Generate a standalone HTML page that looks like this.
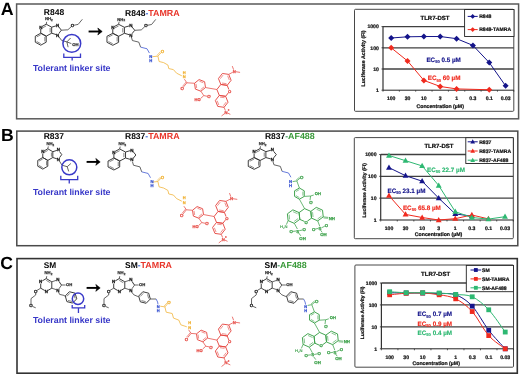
<!DOCTYPE html>
<html><head><meta charset="utf-8"><style>
html,body{margin:0;padding:0;background:#fff;width:520px;height:377px;overflow:hidden}
svg{display:block;will-change:transform}
text{font-family:"Liberation Sans",sans-serif;text-rendering:geometricPrecision}
</style></head><body>
<svg width="520" height="377" viewBox="0 0 520 377">
<rect x="0" y="0" width="520" height="377" fill="#fff"/>
<text x="7.2" y="14.8" font-size="17.8" fill="#000" text-anchor="middle" font-weight="bold" >A</text>
<text x="7.3" y="140.6" font-size="17.6" fill="#000" text-anchor="middle" font-weight="bold" >B</text>
<text x="6.5" y="268.7" font-size="17.6" fill="#000" text-anchor="middle" font-weight="bold" >C</text>
<rect x="16.6" y="4" width="502" height="114.8" fill="none" stroke="#5a5a5a" stroke-width="1.5"/>
<rect x="16.8" y="131.1" width="501" height="114.6" fill="none" stroke="#4a4a4a" stroke-width="1.5"/>
<rect x="17" y="258.6" width="500.3" height="114.6" fill="none" stroke="#333" stroke-width="1.6"/>
<rect x="354.5" y="9.3" width="159.3" height="102" rx="1" fill="#fff" stroke="#333" stroke-width="0.9"/>
<line x1="383" y1="26.6" x2="513.8" y2="26.6" stroke="#404040" stroke-width="1.3"/>
<line x1="383" y1="47.8" x2="513.8" y2="47.8" stroke="#404040" stroke-width="1.3"/>
<line x1="383" y1="69" x2="513.8" y2="69" stroke="#404040" stroke-width="1.3"/>
<line x1="383" y1="26.6" x2="383" y2="90.2" stroke="#333" stroke-width="1.2"/>
<line x1="383" y1="90.2" x2="513.8" y2="90.2" stroke="#222" stroke-width="1"/>
<line x1="381.5" y1="26.6" x2="383" y2="26.6" stroke="#222" stroke-width="0.8"/>
<text x="378.8" y="28.45" font-size="5.1" fill="#111" text-anchor="end" font-weight="bold"  stroke="#111" stroke-width="0.22">1000</text>
<line x1="381.5" y1="47.8" x2="383" y2="47.8" stroke="#222" stroke-width="0.8"/>
<text x="378.8" y="49.65" font-size="5.1" fill="#111" text-anchor="end" font-weight="bold"  stroke="#111" stroke-width="0.22">100</text>
<line x1="381.5" y1="69" x2="383" y2="69" stroke="#222" stroke-width="0.8"/>
<text x="378.8" y="70.85" font-size="5.1" fill="#111" text-anchor="end" font-weight="bold"  stroke="#111" stroke-width="0.22">10</text>
<line x1="381.5" y1="90.2" x2="383" y2="90.2" stroke="#222" stroke-width="0.8"/>
<text x="378.8" y="92.05" font-size="5.1" fill="#111" text-anchor="end" font-weight="bold"  stroke="#111" stroke-width="0.22">1</text>
<line x1="383" y1="90.2" x2="383" y2="91.7" stroke="#222" stroke-width="0.7"/>
<line x1="399.35" y1="90.2" x2="399.35" y2="91.7" stroke="#222" stroke-width="0.7"/>
<line x1="415.7" y1="90.2" x2="415.7" y2="91.7" stroke="#222" stroke-width="0.7"/>
<line x1="432.05" y1="90.2" x2="432.05" y2="91.7" stroke="#222" stroke-width="0.7"/>
<line x1="448.4" y1="90.2" x2="448.4" y2="91.7" stroke="#222" stroke-width="0.7"/>
<line x1="464.75" y1="90.2" x2="464.75" y2="91.7" stroke="#222" stroke-width="0.7"/>
<line x1="481.1" y1="90.2" x2="481.1" y2="91.7" stroke="#222" stroke-width="0.7"/>
<line x1="497.45" y1="90.2" x2="497.45" y2="91.7" stroke="#222" stroke-width="0.7"/>
<line x1="513.8" y1="90.2" x2="513.8" y2="91.7" stroke="#222" stroke-width="0.7"/>
<text x="391.18" y="100.3" font-size="5.1" fill="#111" text-anchor="middle" font-weight="bold"  stroke="#111" stroke-width="0.22">100</text>
<text x="407.52" y="100.3" font-size="5.1" fill="#111" text-anchor="middle" font-weight="bold"  stroke="#111" stroke-width="0.22">30</text>
<text x="423.88" y="100.3" font-size="5.1" fill="#111" text-anchor="middle" font-weight="bold"  stroke="#111" stroke-width="0.22">10</text>
<text x="440.22" y="100.3" font-size="5.1" fill="#111" text-anchor="middle" font-weight="bold"  stroke="#111" stroke-width="0.22">3</text>
<text x="456.57" y="100.3" font-size="5.1" fill="#111" text-anchor="middle" font-weight="bold"  stroke="#111" stroke-width="0.22">1</text>
<text x="472.92" y="100.3" font-size="5.1" fill="#111" text-anchor="middle" font-weight="bold"  stroke="#111" stroke-width="0.22">0.3</text>
<text x="489.27" y="100.3" font-size="5.1" fill="#111" text-anchor="middle" font-weight="bold"  stroke="#111" stroke-width="0.22">0.1</text>
<text x="505.62" y="100.3" font-size="5.1" fill="#111" text-anchor="middle" font-weight="bold"  stroke="#111" stroke-width="0.22">0.03</text>
<text x="440.2" y="107.8" font-size="5.2" fill="#111" text-anchor="middle" font-weight="bold"  stroke="#111" stroke-width="0.22">Concentration (&#181;M)</text>
<text x="0" y="0" font-size="5.25" fill="#111" text-anchor="middle" font-weight="bold" transform="translate(365.3,58.5) rotate(-90)" stroke="#111" stroke-width="0.22">Luciferase Activity (FI)</text>
<text x="435" y="19.5" font-size="6" fill="#111" text-anchor="middle" font-weight="bold"  stroke="#111" stroke-width="0.22">TLR7-DST</text>
<polyline points="391.18,38 407.52,36.81 423.88,36.53 440.22,36.53 456.57,38.66 472.92,45.38 489.27,62.62 505.62,85.87" fill="none" stroke="#14148a" stroke-width="1" stroke-linejoin="round"/>
<polygon points="391.18,35 394.18,38 391.18,41 388.18,38" fill="#14148a"/>
<polygon points="407.52,33.81 410.52,36.81 407.52,39.81 404.52,36.81" fill="#14148a"/>
<polygon points="423.88,33.53 426.88,36.53 423.88,39.53 420.88,36.53" fill="#14148a"/>
<polygon points="440.22,33.53 443.22,36.53 440.22,39.53 437.22,36.53" fill="#14148a"/>
<polygon points="456.57,35.66 459.57,38.66 456.57,41.66 453.57,38.66" fill="#14148a"/>
<polygon points="472.92,42.38 475.92,45.38 472.92,48.38 469.92,45.38" fill="#14148a"/>
<polygon points="489.27,59.62 492.27,62.62 489.27,65.62 486.27,62.62" fill="#14148a"/>
<polygon points="505.62,82.87 508.62,85.87 505.62,88.87 502.62,85.87" fill="#14148a"/>
<polyline points="391.18,47.8 407.52,60.94 423.88,80.4 440.22,86.47 456.57,88.91 489.27,89.75" fill="none" stroke="#f02a1e" stroke-width="1" stroke-linejoin="round"/>
<polygon points="391.18,44.8 394.18,47.8 391.18,50.8 388.18,47.8" fill="#f02a1e"/>
<polygon points="407.52,57.94 410.52,60.94 407.52,63.94 404.52,60.94" fill="#f02a1e"/>
<polygon points="423.88,77.4 426.88,80.4 423.88,83.4 420.88,80.4" fill="#f02a1e"/>
<polygon points="440.22,83.47 443.22,86.47 440.22,89.47 437.22,86.47" fill="#f02a1e"/>
<polygon points="456.57,85.91 459.57,88.91 456.57,91.91 453.57,88.91" fill="#f02a1e"/>
<polygon points="489.27,86.75 492.27,89.75 489.27,92.75 486.27,89.75" fill="#f02a1e"/>
<rect x="464.6" y="9.5" width="49.4" height="27" fill="#fff" stroke="#222" stroke-width="0.9"/>
<line x1="467.7" y1="16.4" x2="477.7" y2="16.4" stroke="#14148a" stroke-width="1"/>
<polygon points="472.7,14 475.1,16.4 472.7,18.8 470.3,16.4" fill="#14148a"/>
<text x="479.2" y="18.25" font-size="5.1" fill="#111" text-anchor="start" font-weight="bold"  stroke="#111" stroke-width="0.22">R848</text>
<line x1="467.7" y1="29.6" x2="477.7" y2="29.6" stroke="#f02a1e" stroke-width="1"/>
<polygon points="472.7,27.2 475.1,29.6 472.7,32 470.3,29.6" fill="#f02a1e"/>
<text x="479.2" y="31.45" font-size="5.1" fill="#111" text-anchor="start" font-weight="bold"  stroke="#111" stroke-width="0.22">R848-TAMRA</text>
<text x="426.4" y="61.8" font-size="6.3" fill="#14148a" stroke="#14148a" stroke-width="0.15" font-weight="bold">EC<tspan font-size="4.1" dy="1.6">50</tspan><tspan dy="-1.6"> 0.5 &#181;M</tspan></text>
<text x="427.8" y="79.9" font-size="6.3" fill="#f02a1e" stroke="#f02a1e" stroke-width="0.15" font-weight="bold">EC<tspan font-size="4.1" dy="1.6">50</tspan><tspan dy="-1.6"> 60 &#181;M</tspan></text>
<rect x="354.3" y="137.6" width="159" height="101.1" rx="1" fill="#fff" stroke="#333" stroke-width="0.9"/>
<line x1="380.7" y1="154.5" x2="513.3" y2="154.5" stroke="#404040" stroke-width="1.3"/>
<line x1="380.7" y1="176.33" x2="513.3" y2="176.33" stroke="#404040" stroke-width="1.3"/>
<line x1="380.7" y1="198.17" x2="513.3" y2="198.17" stroke="#404040" stroke-width="1.3"/>
<line x1="380.7" y1="154.5" x2="380.7" y2="220" stroke="#333" stroke-width="1.2"/>
<line x1="380.7" y1="220" x2="513.3" y2="220" stroke="#222" stroke-width="1"/>
<line x1="379.2" y1="154.5" x2="380.7" y2="154.5" stroke="#222" stroke-width="0.8"/>
<text x="376.5" y="156.35" font-size="5.1" fill="#111" text-anchor="end" font-weight="bold"  stroke="#111" stroke-width="0.22">1000</text>
<line x1="379.2" y1="176.33" x2="380.7" y2="176.33" stroke="#222" stroke-width="0.8"/>
<text x="376.5" y="178.18" font-size="5.1" fill="#111" text-anchor="end" font-weight="bold"  stroke="#111" stroke-width="0.22">100</text>
<line x1="379.2" y1="198.17" x2="380.7" y2="198.17" stroke="#222" stroke-width="0.8"/>
<text x="376.5" y="200.02" font-size="5.1" fill="#111" text-anchor="end" font-weight="bold"  stroke="#111" stroke-width="0.22">10</text>
<line x1="379.2" y1="220" x2="380.7" y2="220" stroke="#222" stroke-width="0.8"/>
<text x="376.5" y="221.85" font-size="5.1" fill="#111" text-anchor="end" font-weight="bold"  stroke="#111" stroke-width="0.22">1</text>
<line x1="380.7" y1="220" x2="380.7" y2="221.5" stroke="#222" stroke-width="0.7"/>
<line x1="397.27" y1="220" x2="397.27" y2="221.5" stroke="#222" stroke-width="0.7"/>
<line x1="413.85" y1="220" x2="413.85" y2="221.5" stroke="#222" stroke-width="0.7"/>
<line x1="430.42" y1="220" x2="430.42" y2="221.5" stroke="#222" stroke-width="0.7"/>
<line x1="447" y1="220" x2="447" y2="221.5" stroke="#222" stroke-width="0.7"/>
<line x1="463.57" y1="220" x2="463.57" y2="221.5" stroke="#222" stroke-width="0.7"/>
<line x1="480.15" y1="220" x2="480.15" y2="221.5" stroke="#222" stroke-width="0.7"/>
<line x1="496.72" y1="220" x2="496.72" y2="221.5" stroke="#222" stroke-width="0.7"/>
<line x1="513.3" y1="220" x2="513.3" y2="221.5" stroke="#222" stroke-width="0.7"/>
<text x="388.99" y="230.3" font-size="5.1" fill="#111" text-anchor="middle" font-weight="bold"  stroke="#111" stroke-width="0.22">100</text>
<text x="405.56" y="230.3" font-size="5.1" fill="#111" text-anchor="middle" font-weight="bold"  stroke="#111" stroke-width="0.22">30</text>
<text x="422.14" y="230.3" font-size="5.1" fill="#111" text-anchor="middle" font-weight="bold"  stroke="#111" stroke-width="0.22">10</text>
<text x="438.71" y="230.3" font-size="5.1" fill="#111" text-anchor="middle" font-weight="bold"  stroke="#111" stroke-width="0.22">3</text>
<text x="455.29" y="230.3" font-size="5.1" fill="#111" text-anchor="middle" font-weight="bold"  stroke="#111" stroke-width="0.22">1</text>
<text x="471.86" y="230.3" font-size="5.1" fill="#111" text-anchor="middle" font-weight="bold"  stroke="#111" stroke-width="0.22">0.3</text>
<text x="488.44" y="230.3" font-size="5.1" fill="#111" text-anchor="middle" font-weight="bold"  stroke="#111" stroke-width="0.22">0.1</text>
<text x="505.01" y="230.3" font-size="5.1" fill="#111" text-anchor="middle" font-weight="bold"  stroke="#111" stroke-width="0.22">0.03</text>
<text x="438.5" y="236.3" font-size="5.2" fill="#111" text-anchor="middle" font-weight="bold"  stroke="#111" stroke-width="0.22">Concentration (&#181;M)</text>
<text x="0" y="0" font-size="5.1" fill="#111" text-anchor="middle" font-weight="bold" transform="translate(365.8,190.4) rotate(-90)" stroke="#111" stroke-width="0.22">Luciferase Activity (FI)</text>
<text x="438.9" y="147.9" font-size="6" fill="#111" text-anchor="middle" font-weight="bold"  stroke="#111" stroke-width="0.22">TLR7-DST</text>
<polyline points="388.99,167.64 405.56,175.69 422.14,181.18 438.71,198.17 455.29,213.91 471.86,216.16" fill="none" stroke="#14148a" stroke-width="1" stroke-linejoin="round"/>
<polygon points="388.99,164.54 391.93,169.81 386.04,169.81" fill="#14148a"/>
<polygon points="405.56,172.59 408.51,177.86 402.62,177.86" fill="#14148a"/>
<polygon points="422.14,178.08 425.08,183.35 419.19,183.35" fill="#14148a"/>
<polygon points="438.71,195.07 441.66,200.34 435.77,200.34" fill="#14148a"/>
<polygon points="455.29,210.81 458.23,216.08 452.34,216.08" fill="#14148a"/>
<polygon points="471.86,213.06 474.81,218.33 468.92,218.33" fill="#14148a"/>
<polyline points="388.99,195.68 405.56,214.43 422.14,217.51 438.71,220 455.29,218.67 471.86,214.97 488.44,218.93" fill="none" stroke="#f02a1e" stroke-width="1" stroke-linejoin="round"/>
<polygon points="388.99,192.58 391.93,197.85 386.04,197.85" fill="#f02a1e"/>
<polygon points="405.56,211.33 408.51,216.6 402.62,216.6" fill="#f02a1e"/>
<polygon points="422.14,214.41 425.08,219.68 419.19,219.68" fill="#f02a1e"/>
<polygon points="438.71,216.9 441.66,222.17 435.77,222.17" fill="#f02a1e"/>
<polygon points="455.29,215.57 458.23,220.84 452.34,220.84" fill="#f02a1e"/>
<polygon points="471.86,211.87 474.81,217.14 468.92,217.14" fill="#f02a1e"/>
<polygon points="488.44,215.83 491.38,221.1 485.49,221.1" fill="#f02a1e"/>
<polyline points="388.99,155.5 405.56,160.7 422.14,165.92 438.71,185.51 455.29,211.7 471.86,217.51 488.44,219.1 505.01,216.68" fill="none" stroke="#2eb872" stroke-width="1" stroke-linejoin="round"/>
<polygon points="388.99,152.4 391.93,157.67 386.04,157.67" fill="#2eb872"/>
<polygon points="405.56,157.6 408.51,162.87 402.62,162.87" fill="#2eb872"/>
<polygon points="422.14,162.82 425.08,168.09 419.19,168.09" fill="#2eb872"/>
<polygon points="438.71,182.41 441.66,187.68 435.77,187.68" fill="#2eb872"/>
<polygon points="455.29,208.6 458.23,213.87 452.34,213.87" fill="#2eb872"/>
<polygon points="471.86,214.41 474.81,219.68 468.92,219.68" fill="#2eb872"/>
<polygon points="488.44,216 491.38,221.27 485.49,221.27" fill="#2eb872"/>
<polygon points="505.01,213.58 507.96,218.85 502.07,218.85" fill="#2eb872"/>
<rect x="465.8" y="137.7" width="47.5" height="25.8" fill="#fff" stroke="#222" stroke-width="0.9"/>
<line x1="467.7" y1="141.8" x2="477.7" y2="141.8" stroke="#14148a" stroke-width="1"/>
<polygon points="472.7,139.32 475.06,143.54 470.34,143.54" fill="#14148a"/>
<text x="479.2" y="143.65" font-size="5.1" fill="#111" text-anchor="start" font-weight="bold"  stroke="#111" stroke-width="0.22">R837</text>
<line x1="467.7" y1="151" x2="477.7" y2="151" stroke="#f02a1e" stroke-width="1"/>
<polygon points="472.7,148.52 475.06,152.74 470.34,152.74" fill="#f02a1e"/>
<text x="479.2" y="152.85" font-size="5.1" fill="#111" text-anchor="start" font-weight="bold"  stroke="#111" stroke-width="0.22">R837-TAMRA</text>
<line x1="467.7" y1="160.2" x2="477.7" y2="160.2" stroke="#2eb872" stroke-width="1"/>
<polygon points="472.7,157.72 475.06,161.94 470.34,161.94" fill="#2eb872"/>
<text x="479.2" y="162.05" font-size="5.1" fill="#111" text-anchor="start" font-weight="bold"  stroke="#111" stroke-width="0.22">R837-AF488</text>
<text x="427" y="171.8" font-size="6.3" fill="#2eb872" stroke="#2eb872" stroke-width="0.15" font-weight="bold">EC<tspan font-size="4.1" dy="1.6">50</tspan><tspan dy="-1.6"> 22.7 &#181;M</tspan></text>
<text x="387.5" y="192.5" font-size="6.3" fill="#14148a" stroke="#14148a" stroke-width="0.15" font-weight="bold">EC<tspan font-size="4.1" dy="1.6">50</tspan><tspan dy="-1.6"> 23.1 &#181;M</tspan></text>
<text x="402.9" y="209.5" font-size="6.3" fill="#f02a1e" stroke="#f02a1e" stroke-width="0.15" font-weight="bold">EC<tspan font-size="4.1" dy="1.6">50</tspan><tspan dy="-1.6"> 65.8 &#181;M</tspan></text>
<rect x="354.9" y="265" width="158.6" height="102.2" rx="1" fill="#fff" stroke="#333" stroke-width="0.9"/>
<line x1="381.4" y1="283" x2="513.5" y2="283" stroke="#404040" stroke-width="1.3"/>
<line x1="381.4" y1="304.93" x2="513.5" y2="304.93" stroke="#404040" stroke-width="1.3"/>
<line x1="381.4" y1="326.87" x2="513.5" y2="326.87" stroke="#404040" stroke-width="1.3"/>
<line x1="381.4" y1="283" x2="381.4" y2="348.8" stroke="#333" stroke-width="1.2"/>
<line x1="381.4" y1="348.8" x2="513.5" y2="348.8" stroke="#222" stroke-width="1"/>
<line x1="379.9" y1="283" x2="381.4" y2="283" stroke="#222" stroke-width="0.8"/>
<text x="377.2" y="284.85" font-size="5.1" fill="#111" text-anchor="end" font-weight="bold"  stroke="#111" stroke-width="0.22">1000</text>
<line x1="379.9" y1="304.93" x2="381.4" y2="304.93" stroke="#222" stroke-width="0.8"/>
<text x="377.2" y="306.78" font-size="5.1" fill="#111" text-anchor="end" font-weight="bold"  stroke="#111" stroke-width="0.22">100</text>
<line x1="379.9" y1="326.87" x2="381.4" y2="326.87" stroke="#222" stroke-width="0.8"/>
<text x="377.2" y="328.72" font-size="5.1" fill="#111" text-anchor="end" font-weight="bold"  stroke="#111" stroke-width="0.22">10</text>
<line x1="379.9" y1="348.8" x2="381.4" y2="348.8" stroke="#222" stroke-width="0.8"/>
<text x="377.2" y="350.65" font-size="5.1" fill="#111" text-anchor="end" font-weight="bold"  stroke="#111" stroke-width="0.22">1</text>
<line x1="381.4" y1="348.8" x2="381.4" y2="350.3" stroke="#222" stroke-width="0.7"/>
<line x1="397.91" y1="348.8" x2="397.91" y2="350.3" stroke="#222" stroke-width="0.7"/>
<line x1="414.42" y1="348.8" x2="414.42" y2="350.3" stroke="#222" stroke-width="0.7"/>
<line x1="430.94" y1="348.8" x2="430.94" y2="350.3" stroke="#222" stroke-width="0.7"/>
<line x1="447.45" y1="348.8" x2="447.45" y2="350.3" stroke="#222" stroke-width="0.7"/>
<line x1="463.96" y1="348.8" x2="463.96" y2="350.3" stroke="#222" stroke-width="0.7"/>
<line x1="480.48" y1="348.8" x2="480.48" y2="350.3" stroke="#222" stroke-width="0.7"/>
<line x1="496.99" y1="348.8" x2="496.99" y2="350.3" stroke="#222" stroke-width="0.7"/>
<line x1="513.5" y1="348.8" x2="513.5" y2="350.3" stroke="#222" stroke-width="0.7"/>
<text x="389.66" y="359.3" font-size="5.1" fill="#111" text-anchor="middle" font-weight="bold"  stroke="#111" stroke-width="0.22">100</text>
<text x="406.17" y="359.3" font-size="5.1" fill="#111" text-anchor="middle" font-weight="bold"  stroke="#111" stroke-width="0.22">30</text>
<text x="422.68" y="359.3" font-size="5.1" fill="#111" text-anchor="middle" font-weight="bold"  stroke="#111" stroke-width="0.22">10</text>
<text x="439.19" y="359.3" font-size="5.1" fill="#111" text-anchor="middle" font-weight="bold"  stroke="#111" stroke-width="0.22">3</text>
<text x="455.71" y="359.3" font-size="5.1" fill="#111" text-anchor="middle" font-weight="bold"  stroke="#111" stroke-width="0.22">1</text>
<text x="472.22" y="359.3" font-size="5.1" fill="#111" text-anchor="middle" font-weight="bold"  stroke="#111" stroke-width="0.22">0.3</text>
<text x="488.73" y="359.3" font-size="5.1" fill="#111" text-anchor="middle" font-weight="bold"  stroke="#111" stroke-width="0.22">0.1</text>
<text x="505.24" y="359.3" font-size="5.1" fill="#111" text-anchor="middle" font-weight="bold"  stroke="#111" stroke-width="0.22">0.03</text>
<text x="436.2" y="365.3" font-size="5.2" fill="#111" text-anchor="middle" font-weight="bold"  stroke="#111" stroke-width="0.22">Concentration (&#181;M)</text>
<text x="0" y="0" font-size="4.95" fill="#111" text-anchor="middle" font-weight="bold" transform="translate(364,312.9) rotate(-90)" stroke="#111" stroke-width="0.22">Luciferase Activity (FI)</text>
<text x="435.6" y="275.9" font-size="6" fill="#111" text-anchor="middle" font-weight="bold"  stroke="#111" stroke-width="0.22">TLR7-DST</text>
<path d="M389.66,292.73 C392.41,292.78 400.66,292.96 406.17,293 C411.67,293.04 417.18,292.91 422.68,293 C428.19,293.09 433.69,293.26 439.19,293.56 C444.7,293.86 450.2,292.69 455.71,294.79 C461.21,296.89 466.71,300.24 472.22,306.15 C477.72,312.06 483.23,323.16 488.73,330.26 C494.24,337.37 502.49,345.71 505.24,348.8" fill="none" stroke="#14148a" stroke-width="1"/>
<rect x="387.26" y="290.33" width="4.8" height="4.8" fill="#14148a"/>
<rect x="403.77" y="290.6" width="4.8" height="4.8" fill="#14148a"/>
<rect x="420.28" y="290.6" width="4.8" height="4.8" fill="#14148a"/>
<rect x="436.79" y="291.16" width="4.8" height="4.8" fill="#14148a"/>
<rect x="453.31" y="292.39" width="4.8" height="4.8" fill="#14148a"/>
<rect x="469.82" y="303.75" width="4.8" height="4.8" fill="#14148a"/>
<rect x="486.33" y="327.86" width="4.8" height="4.8" fill="#14148a"/>
<rect x="502.84" y="346.4" width="4.8" height="4.8" fill="#14148a"/>
<path d="M389.66,294.79 C392.41,294.54 400.66,293.57 406.17,293.28 C411.67,292.98 417.18,292.75 422.68,293 C428.19,293.25 433.69,293.82 439.19,294.79 C444.7,295.76 450.2,296.03 455.71,298.82 C461.21,301.61 466.71,305.41 472.22,311.54 C477.72,317.67 483.23,329.38 488.73,335.59 C494.24,341.81 502.49,346.6 505.24,348.8" fill="none" stroke="#f02a1e" stroke-width="1"/>
<rect x="387.26" y="292.39" width="4.8" height="4.8" fill="#f02a1e"/>
<rect x="403.77" y="290.88" width="4.8" height="4.8" fill="#f02a1e"/>
<rect x="420.28" y="290.6" width="4.8" height="4.8" fill="#f02a1e"/>
<rect x="436.79" y="292.39" width="4.8" height="4.8" fill="#f02a1e"/>
<rect x="453.31" y="296.42" width="4.8" height="4.8" fill="#f02a1e"/>
<rect x="469.82" y="309.14" width="4.8" height="4.8" fill="#f02a1e"/>
<rect x="486.33" y="333.19" width="4.8" height="4.8" fill="#f02a1e"/>
<rect x="502.84" y="346.4" width="4.8" height="4.8" fill="#f02a1e"/>
<path d="M389.66,291.73 C392.41,291.9 400.66,292.56 406.17,292.73 C411.67,292.9 417.18,292.69 422.68,292.73 C428.19,292.78 433.69,292.71 439.19,293 C444.7,293.29 450.2,293.84 455.71,294.47 C461.21,295.1 466.71,294.24 472.22,296.79 C477.72,299.35 483.23,303.92 488.73,309.8 C494.24,315.68 502.49,328.35 505.24,332.06" fill="none" stroke="#2eb872" stroke-width="1"/>
<rect x="387.26" y="289.33" width="4.8" height="4.8" fill="#2eb872"/>
<rect x="403.77" y="290.33" width="4.8" height="4.8" fill="#2eb872"/>
<rect x="420.28" y="290.33" width="4.8" height="4.8" fill="#2eb872"/>
<rect x="436.79" y="290.6" width="4.8" height="4.8" fill="#2eb872"/>
<rect x="453.31" y="292.07" width="4.8" height="4.8" fill="#2eb872"/>
<rect x="469.82" y="294.39" width="4.8" height="4.8" fill="#2eb872"/>
<rect x="486.33" y="307.4" width="4.8" height="4.8" fill="#2eb872"/>
<rect x="502.84" y="329.66" width="4.8" height="4.8" fill="#2eb872"/>
<rect x="466.3" y="265.4" width="47.2" height="26.3" fill="#fff" stroke="#222" stroke-width="0.9"/>
<line x1="470.5" y1="270" x2="481.2" y2="270" stroke="#14148a" stroke-width="1"/>
<rect x="473.93" y="268.08" width="3.84" height="3.84" fill="#14148a"/>
<text x="482" y="271.85" font-size="5.1" fill="#111" text-anchor="start" font-weight="bold"  stroke="#111" stroke-width="0.22">SM</text>
<line x1="470.5" y1="278.9" x2="481.2" y2="278.9" stroke="#f02a1e" stroke-width="1"/>
<rect x="473.93" y="276.98" width="3.84" height="3.84" fill="#f02a1e"/>
<text x="482" y="280.75" font-size="5.1" fill="#111" text-anchor="start" font-weight="bold"  stroke="#111" stroke-width="0.22">SM-TAMRA</text>
<line x1="470.5" y1="287.8" x2="481.2" y2="287.8" stroke="#2eb872" stroke-width="1"/>
<rect x="473.93" y="285.88" width="3.84" height="3.84" fill="#2eb872"/>
<text x="482" y="289.65" font-size="5.1" fill="#111" text-anchor="start" font-weight="bold"  stroke="#111" stroke-width="0.22">SM-AF488</text>
<text x="417.6" y="315.9" font-size="6.3" fill="#14148a" stroke="#14148a" stroke-width="0.15" font-weight="bold">EC<tspan font-size="4.1" dy="1.6">50</tspan><tspan dy="-1.6"> 0.7 &#181;M</tspan></text>
<text x="417.6" y="325.6" font-size="6.3" fill="#f02a1e" stroke="#f02a1e" stroke-width="0.15" font-weight="bold">EC<tspan font-size="4.1" dy="1.6">50</tspan><tspan dy="-1.6"> 0.9 &#181;M</tspan></text>
<text x="417.6" y="334.8" font-size="6.3" fill="#2eb872" stroke="#2eb872" stroke-width="0.15" font-weight="bold">EC<tspan font-size="4.1" dy="1.6">50</tspan><tspan dy="-1.6"> 0.4 &#181;M</tspan></text>
<text x="54" y="14.6" font-size="8.5" fill="#000" text-anchor="middle" font-weight="bold" >R848</text>
<text x="53.8" y="139" font-size="8.5" fill="#000" text-anchor="middle" font-weight="bold" >R837</text>
<text x="49.9" y="267.5" font-size="8.3" fill="#000" text-anchor="middle" font-weight="bold" >SM</text>
<text x="32.9" y="70.6" font-size="8.8" fill="#3838c8" text-anchor="start" font-weight="bold" >Tolerant linker site</text>
<text x="32.9" y="195.3" font-size="8.8" fill="#3838c8" text-anchor="start" font-weight="bold" >Tolerant linker site</text>
<text x="32.9" y="322.7" font-size="8.8" fill="#3838c8" text-anchor="start" font-weight="bold" >Tolerant linker site</text>
<line x1="88.6" y1="31.5" x2="99.2" y2="31.5" stroke="#000" stroke-width="1.9"/>
<polygon points="102.2,31.5 97.8,28.1 99,31.5 97.8,34.9" fill="#000" stroke="#000" stroke-width="0.6" stroke-linejoin="round"/>
<line x1="86.6" y1="161.9" x2="97.2" y2="161.9" stroke="#000" stroke-width="1.9"/>
<polygon points="100.2,161.9 95.8,158.5 97,161.9 95.8,165.3" fill="#000" stroke="#000" stroke-width="0.6" stroke-linejoin="round"/>
<line x1="86.6" y1="287.9" x2="97.2" y2="287.9" stroke="#000" stroke-width="1.9"/>
<polygon points="100.2,287.9 95.8,284.5 97,287.9 95.8,291.3" fill="#000" stroke="#000" stroke-width="0.6" stroke-linejoin="round"/>
<polygon points="46.2,24.2 51.66,27.2 51.66,33.2 46.2,36.2 40.74,33.2 40.74,27.2" fill="none" stroke="#333" stroke-width="0.95" stroke-linejoin="round"/>
<polygon points="40.74,33.2 46.2,36.2 46.2,42.2 40.74,45.2 35.29,42.2 35.29,36.2" fill="none" stroke="#333" stroke-width="0.95" stroke-linejoin="round"/>
<line x1="44.84" y1="36.95" x2="44.84" y2="41.45" stroke="#333" stroke-width="0.6"/>
<line x1="40.74" y1="43.7" x2="36.65" y2="41.45" stroke="#333" stroke-width="0.6"/>
<line x1="36.65" y1="36.95" x2="40.74" y2="34.7" stroke="#333" stroke-width="0.6"/>
<line x1="42.27" y1="28.04" x2="46.2" y2="25.88" stroke="#333" stroke-width="0.6"/>
<line x1="50.13" y1="28.04" x2="50.13" y2="32.36" stroke="#333" stroke-width="0.6"/>
<polyline points="51.66,27.2 57.65,25.35 61.35,30.2 57.65,35.05 51.66,33.2" fill="none" stroke="#333" stroke-width="0.95" stroke-linejoin="round"/>
<line x1="46.2" y1="24.2" x2="46.7" y2="21.8" stroke="#333" stroke-width="0.75"/>
<text x="48.8" y="20.4" font-size="4.2" fill="#333" stroke="#333" stroke-width="0.25" text-anchor="middle" font-weight="bold">NH<tspan font-size="2.94" dy="0.9">2</tspan></text>
<polyline points="61.35,30.2 67.85,29.8 72.55,25.5 78.15,24.4 82.35,19.3" fill="none" stroke="#333" stroke-width="0.75" stroke-linejoin="round"/>
<rect x="71.05" y="23.7" width="3" height="3.6" fill="#fff"/>
<text x="72.55" y="27.08" font-size="4.4" fill="#111" text-anchor="middle" font-weight="bold" stroke="#111" stroke-width="0.25">O</text>
<polyline points="57.65,35.05 61.6,40.4 66.9,41.9" fill="none" stroke="#333" stroke-width="0.75" stroke-linejoin="round"/>
<line x1="66.9" y1="41.9" x2="70.6" y2="38" stroke="#333" stroke-width="0.75"/>
<line x1="66.9" y1="41.9" x2="68.1" y2="47.2" stroke="#333" stroke-width="0.75"/>
<line x1="66.9" y1="41.9" x2="71.4" y2="43.6" stroke="#333" stroke-width="0.75"/>
<rect x="56.15" y="23.55" width="3" height="3.6" fill="#fff"/>
<text x="57.65" y="26.93" font-size="4.4" fill="#111" text-anchor="middle" font-weight="bold" stroke="#111" stroke-width="0.25">N</text>
<rect x="56.15" y="33.25" width="3" height="3.6" fill="#fff"/>
<text x="57.65" y="36.64" font-size="4.4" fill="#111" text-anchor="middle" font-weight="bold" stroke="#111" stroke-width="0.25">N</text>
<rect x="39.24" y="25.4" width="3" height="3.6" fill="#fff"/>
<text x="40.74" y="28.78" font-size="4.4" fill="#111" text-anchor="middle" font-weight="bold" stroke="#111" stroke-width="0.25">N</text>
<text x="75.4" y="45.7" font-size="4.2" fill="#333" text-anchor="middle" font-weight="bold"  stroke="#333" stroke-width="0.25">OH</text>
<circle cx="71.8" cy="43.4" r="8.9" fill="none" stroke="#3a3ac8" stroke-width="1.5"/>
<path d="M63.8,53.5 V57.4 H80.5 V53.5 M72.15,57.4 V60.6" fill="none" stroke="#3a3ac8" stroke-width="1.3"/>
<polygon points="118.6,24.3 124.42,27.3 124.42,33.3 118.6,36.3 112.78,33.3 112.78,27.3" fill="none" stroke="#333" stroke-width="0.95" stroke-linejoin="round"/>
<polygon points="112.78,33.3 118.6,36.3 118.6,42.3 112.78,45.3 106.96,42.3 106.96,36.3" fill="none" stroke="#333" stroke-width="0.95" stroke-linejoin="round"/>
<line x1="117.15" y1="37.05" x2="117.15" y2="41.55" stroke="#333" stroke-width="0.6"/>
<line x1="112.78" y1="43.8" x2="108.42" y2="41.55" stroke="#333" stroke-width="0.6"/>
<line x1="108.42" y1="37.05" x2="112.78" y2="34.8" stroke="#333" stroke-width="0.6"/>
<line x1="114.41" y1="28.14" x2="118.6" y2="25.98" stroke="#333" stroke-width="0.6"/>
<line x1="122.79" y1="28.14" x2="122.79" y2="32.46" stroke="#333" stroke-width="0.6"/>
<polyline points="124.42,27.3 130.81,25.45 134.76,30.3 130.81,35.15 124.42,33.3" fill="none" stroke="#333" stroke-width="0.95" stroke-linejoin="round"/>
<line x1="118.6" y1="24.3" x2="119.1" y2="21.9" stroke="#333" stroke-width="0.75"/>
<text x="121.2" y="20.5" font-size="4.2" fill="#333" stroke="#333" stroke-width="0.25" text-anchor="middle" font-weight="bold">NH<tspan font-size="2.94" dy="0.9">2</tspan></text>
<polyline points="134.76,30.3 141.26,29.9 145.96,25.6 151.56,24.5 155.76,19.4" fill="none" stroke="#333" stroke-width="0.75" stroke-linejoin="round"/>
<rect x="144.46" y="23.8" width="3" height="3.6" fill="#fff"/>
<text x="145.96" y="27.18" font-size="4.4" fill="#111" text-anchor="middle" font-weight="bold" stroke="#111" stroke-width="0.25">O</text>
<polyline points="130.81,35.15 132.41,40.55 138.81,42.15 140.61,47.15" fill="none" stroke="#333" stroke-width="0.75" stroke-linejoin="round"/>
<polyline points="140.61,47.15 147.01,48.75 149.41,53.05" fill="none" stroke="#3550d0" stroke-width="0.75" stroke-linejoin="round"/>
<rect x="129.31" y="23.65" width="3" height="3.6" fill="#fff"/>
<text x="130.81" y="27.03" font-size="4.4" fill="#111" text-anchor="middle" font-weight="bold" stroke="#111" stroke-width="0.25">N</text>
<rect x="129.31" y="33.35" width="3" height="3.6" fill="#fff"/>
<text x="130.81" y="36.74" font-size="4.4" fill="#111" text-anchor="middle" font-weight="bold" stroke="#111" stroke-width="0.25">N</text>
<rect x="111.28" y="25.5" width="3" height="3.6" fill="#fff"/>
<text x="112.78" y="28.88" font-size="4.4" fill="#111" text-anchor="middle" font-weight="bold" stroke="#111" stroke-width="0.25">N</text>
<polyline points="152.4,56.7 157.9,56.1" fill="none" stroke="#f0b030" stroke-width="0.75" stroke-linejoin="round"/>
<line x1="157.9" y1="56.1" x2="161.2" y2="52.6" stroke="#f0b030" stroke-width="0.75"/>
<line x1="157" y1="55.3" x2="160.3" y2="51.8" stroke="#f0b030" stroke-width="0.6"/>
<rect x="161" y="49.8" width="2.8" height="3.6" fill="#fff"/>
<text x="162.4" y="53.18" font-size="4.4" fill="#f0b030" text-anchor="middle" font-weight="bold" stroke="#f0b030" stroke-width="0.25">O</text>
<polyline points="157.9,56.1 159.1,61.5 163.6,62.6 167.9,65 168.8,68.6 173.4,69.6 176.6,73.2 181.8,75.8" fill="none" stroke="#f0b030" stroke-width="0.75" stroke-linejoin="round"/>
<text x="184.2" y="78.45" font-size="4" fill="#f0b030" text-anchor="middle" font-weight="bold"  stroke="#f0b030" stroke-width="0.25">N</text>
<text x="184.2" y="73.8" font-size="4" fill="#f0b030" text-anchor="middle" font-weight="bold"  stroke="#f0b030" stroke-width="0.25">H</text>
<text x="150.81" y="57.8" font-size="4.2" fill="#3550d0" text-anchor="middle" font-weight="bold"  stroke="#3550d0" stroke-width="0.25">N</text>
<text x="150.81" y="62.05" font-size="4.2" fill="#3550d0" text-anchor="middle" font-weight="bold"  stroke="#3550d0" stroke-width="0.25">H</text>
<line x1="184.4" y1="79.2" x2="186.9" y2="82.8" stroke="#e64a44" stroke-width="0.75"/>
<line x1="186.9" y1="82.8" x2="183.3" y2="87.2" stroke="#e64a44" stroke-width="0.75"/>
<line x1="186.1" y1="82" x2="182.5" y2="86.4" stroke="#e64a44" stroke-width="0.6"/>
<rect x="180.8" y="86.8" width="2.8" height="3.6" fill="#fff"/>
<text x="182.2" y="90.18" font-size="4.4" fill="#e64a44" text-anchor="middle" font-weight="bold" stroke="#e64a44" stroke-width="0.25">O</text>
<polygon points="199.12,79.57 204.61,81.72 205.49,87.55 200.88,91.23 195.39,89.08 194.51,83.25" fill="none" stroke="#e64a44" stroke-width="0.95" stroke-linejoin="round"/>
<line x1="199.36" y1="81.2" x2="203.32" y2="82.75" stroke="#e64a44" stroke-width="0.6"/>
<line x1="203.96" y1="86.95" x2="200.64" y2="89.6" stroke="#e64a44" stroke-width="0.6"/>
<line x1="196.68" y1="88.05" x2="196.04" y2="83.85" stroke="#e64a44" stroke-width="0.6"/>
<line x1="186.9" y1="82.8" x2="194.51" y2="83.25" stroke="#e64a44" stroke-width="0.75"/>
<line x1="200.88" y1="91.23" x2="203.8" y2="95.6" stroke="#e64a44" stroke-width="0.75"/>
<line x1="203.8" y1="95.6" x2="207.3" y2="96.3" stroke="#e64a44" stroke-width="0.75"/>
<line x1="203.8" y1="95.6" x2="200.6" y2="98.5" stroke="#e64a44" stroke-width="0.75"/>
<rect x="207.5" y="94.8" width="2.8" height="3.6" fill="#fff"/>
<text x="208.9" y="98.18" font-size="4.4" fill="#e64a44" text-anchor="middle" font-weight="bold" stroke="#e64a44" stroke-width="0.25">O</text>
<text x="197.6" y="101.3" font-size="4" fill="#e64a44" text-anchor="middle" font-weight="bold"  stroke="#e64a44" stroke-width="0.25">HO</text>
<line x1="205.49" y1="87.55" x2="216.9" y2="89.5" stroke="#e64a44" stroke-width="0.75"/>
<polygon points="229.58,91.28 225.64,96.32 219.3,95.43 216.9,89.5 220.84,84.46 227.18,85.35" fill="none" stroke="#e64a44" stroke-width="0.95" stroke-linejoin="round"/>
<polygon points="231.12,80.3 227.18,85.35 220.84,84.46 218.44,78.52 222.38,73.48 228.72,74.37" fill="none" stroke="#e64a44" stroke-width="0.95" stroke-linejoin="round"/>
<polygon points="228.03,102.26 224.09,107.3 217.75,106.41 215.36,100.48 219.3,95.43 225.64,96.32" fill="none" stroke="#e64a44" stroke-width="0.95" stroke-linejoin="round"/>
<line x1="226.51" y1="83.69" x2="221.94" y2="83.04" stroke="#e64a44" stroke-width="0.6"/>
<line x1="220.22" y1="78.77" x2="223.05" y2="75.14" stroke="#e64a44" stroke-width="0.6"/>
<line x1="227.62" y1="75.78" x2="229.34" y2="80.06" stroke="#e64a44" stroke-width="0.6"/>
<line x1="226.26" y1="102.01" x2="223.42" y2="105.64" stroke="#e64a44" stroke-width="0.6"/>
<line x1="218.86" y1="105" x2="217.13" y2="100.73" stroke="#e64a44" stroke-width="0.6"/>
<line x1="219.97" y1="97.1" x2="224.53" y2="97.74" stroke="#e64a44" stroke-width="0.6"/>
<rect x="228.08" y="89.48" width="3" height="3.6" fill="#fff"/>
<text x="229.58" y="92.79" font-size="4.2" fill="#e64a44" text-anchor="middle" font-weight="bold" stroke="#e64a44" stroke-width="0.25">O</text>
<line x1="228.72" y1="74.37" x2="234.27" y2="71.48" stroke="#e64a44" stroke-width="0.75"/>
<line x1="234.27" y1="71.48" x2="232.27" y2="66.08" stroke="#e64a44" stroke-width="0.75"/>
<line x1="234.27" y1="71.48" x2="240.07" y2="72.38" stroke="#e64a44" stroke-width="0.75"/>
<rect x="232.77" y="69.68" width="3" height="3.6" fill="#fff"/>
<text x="234.27" y="73" font-size="4.2" fill="#e64a44" text-anchor="middle" font-weight="bold" stroke="#e64a44" stroke-width="0.25">N</text>
<line x1="224.09" y1="107.3" x2="226.13" y2="112.35" stroke="#e64a44" stroke-width="0.75"/>
<line x1="226.13" y1="112.35" x2="221.53" y2="115.95" stroke="#e64a44" stroke-width="0.75"/>
<line x1="226.13" y1="112.35" x2="230.33" y2="114.35" stroke="#e64a44" stroke-width="0.75"/>
<rect x="224.63" y="110.55" width="3" height="3.6" fill="#fff"/>
<text x="226.13" y="113.86" font-size="4.2" fill="#e64a44" text-anchor="middle" font-weight="bold" stroke="#e64a44" stroke-width="0.25">N</text>
<text x="228.73" y="111.35" font-size="3" fill="#e64a44" text-anchor="middle" font-weight="bold"  stroke="#e64a44" stroke-width="0.25">+</text>
<polygon points="47.8,148.8 52.82,151.7 52.82,157.5 47.8,160.4 42.78,157.5 42.78,151.7" fill="none" stroke="#333" stroke-width="0.95" stroke-linejoin="round"/>
<polygon points="42.78,157.5 47.8,160.4 47.8,166.2 42.78,169.1 37.75,166.2 37.75,160.4" fill="none" stroke="#333" stroke-width="0.95" stroke-linejoin="round"/>
<line x1="46.54" y1="161.12" x2="46.54" y2="165.47" stroke="#333" stroke-width="0.6"/>
<line x1="42.78" y1="167.65" x2="39.01" y2="165.47" stroke="#333" stroke-width="0.6"/>
<line x1="39.01" y1="161.12" x2="42.78" y2="158.95" stroke="#333" stroke-width="0.6"/>
<line x1="44.18" y1="152.51" x2="47.8" y2="150.42" stroke="#333" stroke-width="0.6"/>
<line x1="51.42" y1="152.51" x2="51.42" y2="156.69" stroke="#333" stroke-width="0.6"/>
<polyline points="52.82,151.7 58.34,149.91 61.75,154.6 58.34,159.29 52.82,157.5" fill="none" stroke="#333" stroke-width="0.95" stroke-linejoin="round"/>
<line x1="47.8" y1="148.8" x2="48.3" y2="146.4" stroke="#333" stroke-width="0.75"/>
<text x="50.4" y="145" font-size="4.2" fill="#333" stroke="#333" stroke-width="0.25" text-anchor="middle" font-weight="bold">NH<tspan font-size="2.94" dy="0.9">2</tspan></text>
<polyline points="58.34,159.29 62,165.2 67.2,166.7" fill="none" stroke="#333" stroke-width="0.75" stroke-linejoin="round"/>
<line x1="67.2" y1="166.7" x2="70.9" y2="163.5" stroke="#333" stroke-width="0.75"/>
<line x1="67.2" y1="166.7" x2="68.7" y2="171.4" stroke="#333" stroke-width="0.75"/>
<rect x="56.84" y="148.11" width="3" height="3.6" fill="#fff"/>
<text x="58.34" y="151.49" font-size="4.4" fill="#111" text-anchor="middle" font-weight="bold" stroke="#111" stroke-width="0.25">N</text>
<rect x="56.84" y="157.49" width="3" height="3.6" fill="#fff"/>
<text x="58.34" y="160.88" font-size="4.4" fill="#111" text-anchor="middle" font-weight="bold" stroke="#111" stroke-width="0.25">N</text>
<rect x="41.28" y="149.9" width="3" height="3.6" fill="#fff"/>
<text x="42.78" y="153.28" font-size="4.4" fill="#111" text-anchor="middle" font-weight="bold" stroke="#111" stroke-width="0.25">N</text>
<circle cx="69.3" cy="167.3" r="7.5" fill="none" stroke="#3a3ac8" stroke-width="1.5"/>
<path d="M60.8,175.7 V179.7 H77.7 V175.7 M69.25,179.7 V183.6" fill="none" stroke="#3a3ac8" stroke-width="1.3"/>
<polygon points="119.7,149 125.52,152 125.52,158 119.7,161 113.88,158 113.88,152" fill="none" stroke="#333" stroke-width="0.95" stroke-linejoin="round"/>
<polygon points="113.88,158 119.7,161 119.7,167 113.88,170 108.06,167 108.06,161" fill="none" stroke="#333" stroke-width="0.95" stroke-linejoin="round"/>
<line x1="118.25" y1="161.75" x2="118.25" y2="166.25" stroke="#333" stroke-width="0.6"/>
<line x1="113.88" y1="168.5" x2="109.52" y2="166.25" stroke="#333" stroke-width="0.6"/>
<line x1="109.52" y1="161.75" x2="113.88" y2="159.5" stroke="#333" stroke-width="0.6"/>
<line x1="115.51" y1="152.84" x2="119.7" y2="150.68" stroke="#333" stroke-width="0.6"/>
<line x1="123.89" y1="152.84" x2="123.89" y2="157.16" stroke="#333" stroke-width="0.6"/>
<polyline points="125.52,152 131.91,150.15 135.86,155 131.91,159.85 125.52,158" fill="none" stroke="#333" stroke-width="0.95" stroke-linejoin="round"/>
<line x1="119.7" y1="149" x2="120.2" y2="146.6" stroke="#333" stroke-width="0.75"/>
<text x="122.3" y="145.2" font-size="4.2" fill="#333" stroke="#333" stroke-width="0.25" text-anchor="middle" font-weight="bold">NH<tspan font-size="2.94" dy="0.9">2</tspan></text>
<polyline points="131.91,159.85 133.51,165.25 139.91,166.85 141.71,171.85" fill="none" stroke="#333" stroke-width="0.75" stroke-linejoin="round"/>
<polyline points="141.71,171.85 148.11,173.45 150.51,177.75" fill="none" stroke="#3550d0" stroke-width="0.75" stroke-linejoin="round"/>
<rect x="130.41" y="148.35" width="3" height="3.6" fill="#fff"/>
<text x="131.91" y="151.73" font-size="4.4" fill="#111" text-anchor="middle" font-weight="bold" stroke="#111" stroke-width="0.25">N</text>
<rect x="130.41" y="158.05" width="3" height="3.6" fill="#fff"/>
<text x="131.91" y="161.44" font-size="4.4" fill="#111" text-anchor="middle" font-weight="bold" stroke="#111" stroke-width="0.25">N</text>
<rect x="112.38" y="150.2" width="3" height="3.6" fill="#fff"/>
<text x="113.88" y="153.58" font-size="4.4" fill="#111" text-anchor="middle" font-weight="bold" stroke="#111" stroke-width="0.25">N</text>
<polyline points="152.4,182.1 157.9,181.5" fill="none" stroke="#f0b030" stroke-width="0.75" stroke-linejoin="round"/>
<line x1="157.9" y1="181.5" x2="161.2" y2="178" stroke="#f0b030" stroke-width="0.75"/>
<line x1="157" y1="180.7" x2="160.3" y2="177.2" stroke="#f0b030" stroke-width="0.6"/>
<rect x="161" y="175.2" width="2.8" height="3.6" fill="#fff"/>
<text x="162.4" y="178.58" font-size="4.4" fill="#f0b030" text-anchor="middle" font-weight="bold" stroke="#f0b030" stroke-width="0.25">O</text>
<polyline points="157.9,181.5 159.1,186.9 163.6,188 167.9,190.4 168.8,194 173.4,195 176.6,198.6 181.8,201.2" fill="none" stroke="#f0b030" stroke-width="0.75" stroke-linejoin="round"/>
<text x="184.2" y="203.85" font-size="4" fill="#f0b030" text-anchor="middle" font-weight="bold"  stroke="#f0b030" stroke-width="0.25">N</text>
<text x="184.2" y="199.2" font-size="4" fill="#f0b030" text-anchor="middle" font-weight="bold"  stroke="#f0b030" stroke-width="0.25">H</text>
<text x="151.91" y="182.5" font-size="4.2" fill="#3550d0" text-anchor="middle" font-weight="bold"  stroke="#3550d0" stroke-width="0.25">N</text>
<text x="151.91" y="186.75" font-size="4.2" fill="#3550d0" text-anchor="middle" font-weight="bold"  stroke="#3550d0" stroke-width="0.25">H</text>
<line x1="183.9" y1="206.2" x2="186.4" y2="209.8" stroke="#e64a44" stroke-width="0.75"/>
<line x1="186.4" y1="209.8" x2="182.8" y2="214.2" stroke="#e64a44" stroke-width="0.75"/>
<line x1="185.6" y1="209" x2="182" y2="213.4" stroke="#e64a44" stroke-width="0.6"/>
<rect x="180.3" y="213.8" width="2.8" height="3.6" fill="#fff"/>
<text x="181.7" y="217.18" font-size="4.4" fill="#e64a44" text-anchor="middle" font-weight="bold" stroke="#e64a44" stroke-width="0.25">O</text>
<polygon points="197.12,206.57 202.61,208.72 203.49,214.55 198.88,218.23 193.39,216.08 192.51,210.25" fill="none" stroke="#e64a44" stroke-width="0.95" stroke-linejoin="round"/>
<line x1="197.36" y1="208.2" x2="201.32" y2="209.75" stroke="#e64a44" stroke-width="0.6"/>
<line x1="201.96" y1="213.95" x2="198.64" y2="216.6" stroke="#e64a44" stroke-width="0.6"/>
<line x1="194.68" y1="215.05" x2="194.04" y2="210.85" stroke="#e64a44" stroke-width="0.6"/>
<line x1="186.4" y1="209.8" x2="192.51" y2="210.25" stroke="#e64a44" stroke-width="0.75"/>
<line x1="198.88" y1="218.23" x2="201.8" y2="222.6" stroke="#e64a44" stroke-width="0.75"/>
<line x1="201.8" y1="222.6" x2="205.3" y2="223.3" stroke="#e64a44" stroke-width="0.75"/>
<line x1="201.8" y1="222.6" x2="198.6" y2="225.5" stroke="#e64a44" stroke-width="0.75"/>
<rect x="205.5" y="221.8" width="2.8" height="3.6" fill="#fff"/>
<text x="206.9" y="225.18" font-size="4.4" fill="#e64a44" text-anchor="middle" font-weight="bold" stroke="#e64a44" stroke-width="0.25">O</text>
<text x="195.6" y="228.3" font-size="4" fill="#e64a44" text-anchor="middle" font-weight="bold"  stroke="#e64a44" stroke-width="0.25">HO</text>
<line x1="203.49" y1="214.55" x2="214.1" y2="216.5" stroke="#e64a44" stroke-width="0.75"/>
<polygon points="226.78,218.28 222.84,223.32 216.5,222.43 214.1,216.5 218.04,211.46 224.38,212.35" fill="none" stroke="#e64a44" stroke-width="0.95" stroke-linejoin="round"/>
<polygon points="228.32,207.3 224.38,212.35 218.04,211.46 215.64,205.52 219.58,200.48 225.92,201.37" fill="none" stroke="#e64a44" stroke-width="0.95" stroke-linejoin="round"/>
<polygon points="225.23,229.26 221.29,234.3 214.95,233.41 212.56,227.48 216.5,222.43 222.84,223.32" fill="none" stroke="#e64a44" stroke-width="0.95" stroke-linejoin="round"/>
<line x1="223.71" y1="210.69" x2="219.14" y2="210.04" stroke="#e64a44" stroke-width="0.6"/>
<line x1="217.42" y1="205.77" x2="220.25" y2="202.14" stroke="#e64a44" stroke-width="0.6"/>
<line x1="224.82" y1="202.78" x2="226.54" y2="207.06" stroke="#e64a44" stroke-width="0.6"/>
<line x1="223.46" y1="229.01" x2="220.62" y2="232.64" stroke="#e64a44" stroke-width="0.6"/>
<line x1="216.06" y1="232" x2="214.33" y2="227.73" stroke="#e64a44" stroke-width="0.6"/>
<line x1="217.17" y1="224.1" x2="221.73" y2="224.74" stroke="#e64a44" stroke-width="0.6"/>
<rect x="225.28" y="216.48" width="3" height="3.6" fill="#fff"/>
<text x="226.78" y="219.79" font-size="4.2" fill="#e64a44" text-anchor="middle" font-weight="bold" stroke="#e64a44" stroke-width="0.25">O</text>
<line x1="225.92" y1="201.37" x2="231.47" y2="198.48" stroke="#e64a44" stroke-width="0.75"/>
<line x1="231.47" y1="198.48" x2="229.47" y2="193.08" stroke="#e64a44" stroke-width="0.75"/>
<line x1="231.47" y1="198.48" x2="237.27" y2="199.38" stroke="#e64a44" stroke-width="0.75"/>
<rect x="229.97" y="196.68" width="3" height="3.6" fill="#fff"/>
<text x="231.47" y="200" font-size="4.2" fill="#e64a44" text-anchor="middle" font-weight="bold" stroke="#e64a44" stroke-width="0.25">N</text>
<line x1="221.29" y1="234.3" x2="223.33" y2="239.35" stroke="#e64a44" stroke-width="0.75"/>
<line x1="223.33" y1="239.35" x2="218.73" y2="242.95" stroke="#e64a44" stroke-width="0.75"/>
<line x1="223.33" y1="239.35" x2="227.53" y2="241.35" stroke="#e64a44" stroke-width="0.75"/>
<rect x="221.83" y="237.55" width="3" height="3.6" fill="#fff"/>
<text x="223.33" y="240.86" font-size="4.2" fill="#e64a44" text-anchor="middle" font-weight="bold" stroke="#e64a44" stroke-width="0.25">N</text>
<text x="225.93" y="238.35" font-size="3" fill="#e64a44" text-anchor="middle" font-weight="bold"  stroke="#e64a44" stroke-width="0.25">+</text>
<polygon points="260,148.7 265.88,151.65 265.88,157.55 260,160.5 254.12,157.55 254.12,151.65" fill="none" stroke="#333" stroke-width="0.95" stroke-linejoin="round"/>
<polygon points="254.12,157.55 260,160.5 260,166.4 254.12,169.35 248.25,166.4 248.25,160.5" fill="none" stroke="#333" stroke-width="0.95" stroke-linejoin="round"/>
<line x1="258.53" y1="161.24" x2="258.53" y2="165.66" stroke="#333" stroke-width="0.6"/>
<line x1="254.12" y1="167.88" x2="249.72" y2="165.66" stroke="#333" stroke-width="0.6"/>
<line x1="249.72" y1="161.24" x2="254.12" y2="159.02" stroke="#333" stroke-width="0.6"/>
<line x1="255.77" y1="152.48" x2="260" y2="150.35" stroke="#333" stroke-width="0.6"/>
<line x1="264.23" y1="152.48" x2="264.23" y2="156.72" stroke="#333" stroke-width="0.6"/>
<polyline points="265.88,151.65 272.33,149.83 276.32,154.6 272.33,159.37 265.88,157.55" fill="none" stroke="#333" stroke-width="0.95" stroke-linejoin="round"/>
<line x1="260" y1="148.7" x2="260.5" y2="146.3" stroke="#333" stroke-width="0.75"/>
<text x="262.6" y="144.9" font-size="4.2" fill="#333" stroke="#333" stroke-width="0.25" text-anchor="middle" font-weight="bold">NH<tspan font-size="2.94" dy="0.9">2</tspan></text>
<polyline points="272.33,159.37 273.93,164.77 280.33,166.37 282.13,171.37" fill="none" stroke="#333" stroke-width="0.75" stroke-linejoin="round"/>
<polyline points="282.13,171.37 288.53,172.97 290.93,177.27" fill="none" stroke="#3550d0" stroke-width="0.75" stroke-linejoin="round"/>
<rect x="270.83" y="148.03" width="3" height="3.6" fill="#fff"/>
<text x="272.33" y="151.41" font-size="4.4" fill="#111" text-anchor="middle" font-weight="bold" stroke="#111" stroke-width="0.25">N</text>
<rect x="270.83" y="157.57" width="3" height="3.6" fill="#fff"/>
<text x="272.33" y="160.96" font-size="4.4" fill="#111" text-anchor="middle" font-weight="bold" stroke="#111" stroke-width="0.25">N</text>
<rect x="252.62" y="149.85" width="3" height="3.6" fill="#fff"/>
<text x="254.12" y="153.23" font-size="4.4" fill="#111" text-anchor="middle" font-weight="bold" stroke="#111" stroke-width="0.25">N</text>
<text x="290.53" y="183.02" font-size="4.2" fill="#3550d0" text-anchor="middle" font-weight="bold"  stroke="#3550d0" stroke-width="0.25">N</text>
<text x="290.53" y="187.27" font-size="4.2" fill="#3550d0" text-anchor="middle" font-weight="bold"  stroke="#3550d0" stroke-width="0.25">H</text>
<line x1="292.6" y1="181.6" x2="296.8" y2="180.9" stroke="#3aa048" stroke-width="0.75"/>
<line x1="296.8" y1="180.9" x2="300.3" y2="177.9" stroke="#3aa048" stroke-width="0.75"/>
<line x1="296.1" y1="180.1" x2="299.6" y2="177.1" stroke="#3aa048" stroke-width="0.6"/>
<rect x="300.4" y="175.4" width="2.8" height="3.6" fill="#fff"/>
<text x="301.8" y="178.78" font-size="4.4" fill="#3aa048" text-anchor="middle" font-weight="bold" stroke="#3aa048" stroke-width="0.25">O</text>
<polygon points="299.4,188 304.25,190.8 304.25,196.4 299.4,199.2 294.55,196.4 294.55,190.8" fill="none" stroke="#3aa048" stroke-width="0.95" stroke-linejoin="round"/>
<line x1="302.89" y1="191.58" x2="302.89" y2="195.62" stroke="#3aa048" stroke-width="0.6"/>
<line x1="299.4" y1="197.63" x2="295.91" y2="195.62" stroke="#3aa048" stroke-width="0.6"/>
<line x1="295.91" y1="191.58" x2="299.4" y2="189.57" stroke="#3aa048" stroke-width="0.6"/>
<line x1="296.8" y1="180.9" x2="299.4" y2="188" stroke="#3aa048" stroke-width="0.75"/>
<line x1="304.25" y1="196.4" x2="310.6" y2="196" stroke="#3aa048" stroke-width="0.75"/>
<line x1="310.6" y1="196" x2="313.8" y2="195" stroke="#3aa048" stroke-width="0.75"/>
<line x1="310.6" y1="196" x2="310" y2="200.2" stroke="#3aa048" stroke-width="0.75"/>
<text x="317.8" y="195.4" font-size="4" fill="#3aa048" text-anchor="middle" font-weight="bold"  stroke="#3aa048" stroke-width="0.25">OH</text>
<rect x="309.6" y="200.8" width="2.8" height="3.6" fill="#fff"/>
<text x="311" y="204.18" font-size="4.4" fill="#3aa048" text-anchor="middle" font-weight="bold" stroke="#3aa048" stroke-width="0.25">O</text>
<line x1="299.4" y1="199.2" x2="304.6" y2="208.6" stroke="#3aa048" stroke-width="0.75"/>
<polygon points="304.6,208.6 310.81,211.37 311.52,218.13 306.02,222.13 299.81,219.36 299.1,212.6" fill="none" stroke="#3aa048" stroke-width="0.95" stroke-linejoin="round"/>
<polygon points="292.89,209.83 299.1,212.6 299.81,219.36 294.31,223.36 288.1,220.59 287.39,213.83" fill="none" stroke="#3aa048" stroke-width="0.95" stroke-linejoin="round"/>
<polygon points="316.31,207.37 322.53,210.13 323.24,216.9 317.73,220.89 311.52,218.13 310.81,211.37" fill="none" stroke="#3aa048" stroke-width="0.95" stroke-linejoin="round"/>
<line x1="293.09" y1="211.72" x2="297.56" y2="213.72" stroke="#3aa048" stroke-width="0.6"/>
<line x1="298.07" y1="218.59" x2="294.11" y2="221.46" stroke="#3aa048" stroke-width="0.6"/>
<line x1="289.64" y1="219.47" x2="289.12" y2="214.6" stroke="#3aa048" stroke-width="0.6"/>
<line x1="316.51" y1="209.26" x2="320.98" y2="211.25" stroke="#3aa048" stroke-width="0.6"/>
<line x1="321.5" y1="216.12" x2="317.54" y2="219" stroke="#3aa048" stroke-width="0.6"/>
<line x1="313.06" y1="217.01" x2="312.55" y2="212.14" stroke="#3aa048" stroke-width="0.6"/>
<rect x="304.52" y="220.33" width="3" height="3.6" fill="#fff"/>
<text x="306.02" y="223.64" font-size="4.2" fill="#3aa048" text-anchor="middle" font-weight="bold" stroke="#3aa048" stroke-width="0.25">O</text>
<line x1="288.1" y1="220.59" x2="286.4" y2="224.6" stroke="#3aa048" stroke-width="0.75"/>
<text x="283.8" y="227.9" font-size="4.2" fill="#3aa048" text-anchor="middle" font-weight="bold">H<tspan font-size="2.9" dy="0.8">2</tspan><tspan dy="-0.8">N</tspan></text>
<line x1="294.31" y1="223.36" x2="297.4" y2="229" stroke="#3aa048" stroke-width="0.75"/>
<line x1="296.2" y1="231" x2="292.8" y2="231.4" stroke="#3aa048" stroke-width="0.75"/>
<line x1="299.2" y1="230.7" x2="302.5" y2="230" stroke="#3aa048" stroke-width="0.75"/>
<line x1="298.5" y1="232.8" x2="300.8" y2="235.8" stroke="#3aa048" stroke-width="0.75"/>
<text x="297.7" y="232.55" font-size="4.3" fill="#3aa048" text-anchor="middle" font-weight="bold"  stroke="#3aa048" stroke-width="0.25">S</text>
<text x="291.2" y="232.95" font-size="4.3" fill="#3aa048" text-anchor="middle" font-weight="bold"  stroke="#3aa048" stroke-width="0.25">O</text>
<text x="304.1" y="231.35" font-size="4.3" fill="#3aa048" text-anchor="middle" font-weight="bold"  stroke="#3aa048" stroke-width="0.25">O</text>
<text x="302.6" y="239.95" font-size="4.3" fill="#3aa048" text-anchor="middle" font-weight="bold"  stroke="#3aa048" stroke-width="0.25">OH</text>
<line x1="323.24" y1="216.9" x2="328.2" y2="217.4" stroke="#3aa048" stroke-width="0.75"/>
<line x1="323.44" y1="218" x2="328" y2="218.5" stroke="#3aa048" stroke-width="0.55"/>
<text x="331.8" y="219.55" font-size="4.3" fill="#3aa048" text-anchor="middle" font-weight="bold"  stroke="#3aa048" stroke-width="0.25">NH</text>
<line x1="317.73" y1="220.89" x2="319.8" y2="226.4" stroke="#3aa048" stroke-width="0.75"/>
<line x1="318.5" y1="228.4" x2="315.2" y2="229" stroke="#3aa048" stroke-width="0.75"/>
<line x1="321.5" y1="227.8" x2="324.8" y2="226.2" stroke="#3aa048" stroke-width="0.75"/>
<line x1="320.6" y1="230.2" x2="322.2" y2="232.4" stroke="#3aa048" stroke-width="0.75"/>
<text x="320" y="229.95" font-size="4.3" fill="#3aa048" text-anchor="middle" font-weight="bold"  stroke="#3aa048" stroke-width="0.25">S</text>
<text x="313.6" y="230.55" font-size="4.3" fill="#3aa048" text-anchor="middle" font-weight="bold"  stroke="#3aa048" stroke-width="0.25">O</text>
<text x="326.4" y="227.35" font-size="4.3" fill="#3aa048" text-anchor="middle" font-weight="bold"  stroke="#3aa048" stroke-width="0.25">O</text>
<text x="323.4" y="236.15" font-size="4.3" fill="#3aa048" text-anchor="middle" font-weight="bold"  stroke="#3aa048" stroke-width="0.25">OH</text>
<polygon points="46.25,278.6 51.79,281.8 51.79,288.2 46.25,291.4 40.71,288.2 40.71,281.8" fill="none" stroke="#333" stroke-width="0.95" stroke-linejoin="round"/>
<polyline points="51.79,281.8 57.88,279.82 61.64,285 57.88,290.18 51.79,288.2" fill="none" stroke="#333" stroke-width="0.75" stroke-linejoin="round"/>
<line x1="46.25" y1="280.39" x2="50.24" y2="282.7" stroke="#333" stroke-width="0.6"/>
<line x1="46.25" y1="278.6" x2="46.75" y2="276.2" stroke="#333" stroke-width="0.75"/>
<text x="48.45" y="274" font-size="4.2" fill="#333" stroke="#333" stroke-width="0.25" text-anchor="middle" font-weight="bold">NH<tspan font-size="2.94" dy="0.9">2</tspan></text>
<line x1="61.64" y1="285" x2="65.64" y2="285" stroke="#333" stroke-width="0.75"/>
<line x1="58.78" y1="281.42" x2="61.04" y2="284.8" stroke="#333" stroke-width="0.5"/>
<text x="69.24" y="286.45" font-size="4.2" fill="#333" text-anchor="middle" font-weight="bold"  stroke="#333" stroke-width="0.25">OH</text>
<polyline points="40.71,288.2 35.71,291.1 35.71,295 31.01,298.6 31.01,305.8 35.71,307.8" fill="none" stroke="#333" stroke-width="0.75" stroke-linejoin="round"/>
<rect x="34.31" y="289.3" width="2.8" height="3.6" fill="#fff"/>
<text x="35.71" y="292.68" font-size="4.4" fill="#111" text-anchor="middle" font-weight="bold" stroke="#111" stroke-width="0.25">O</text>
<rect x="29.61" y="304" width="2.8" height="3.6" fill="#fff"/>
<text x="31.01" y="307.38" font-size="4.4" fill="#111" text-anchor="middle" font-weight="bold" stroke="#111" stroke-width="0.25">O</text>
<rect x="39.21" y="280" width="3" height="3.6" fill="#fff"/>
<text x="40.71" y="283.38" font-size="4.4" fill="#111" text-anchor="middle" font-weight="bold" stroke="#111" stroke-width="0.25">N</text>
<rect x="44.75" y="289.6" width="3" height="3.6" fill="#fff"/>
<text x="46.25" y="292.98" font-size="4.4" fill="#111" text-anchor="middle" font-weight="bold" stroke="#111" stroke-width="0.25">N</text>
<rect x="56.38" y="278.02" width="3" height="3.6" fill="#fff"/>
<text x="57.88" y="281.41" font-size="4.4" fill="#111" text-anchor="middle" font-weight="bold" stroke="#111" stroke-width="0.25">N</text>
<rect x="56.38" y="288.38" width="3" height="3.6" fill="#fff"/>
<text x="57.88" y="291.76" font-size="4.4" fill="#111" text-anchor="middle" font-weight="bold" stroke="#111" stroke-width="0.25">N</text>
<polygon points="65.28,295.97 69.37,291.73 75.1,293.16 76.72,298.83 72.63,303.07 66.9,301.64" fill="none" stroke="#333" stroke-width="0.95" stroke-linejoin="round"/>
<line x1="66.88" y1="296.37" x2="69.83" y2="293.32" stroke="#333" stroke-width="0.6"/>
<line x1="73.95" y1="294.34" x2="75.12" y2="298.43" stroke="#333" stroke-width="0.6"/>
<line x1="72.17" y1="301.48" x2="68.05" y2="300.46" stroke="#333" stroke-width="0.6"/>
<polyline points="58.38,291.68 59.6,294.4 64,295.4 65.3,296.4" fill="none" stroke="#333" stroke-width="0.75" stroke-linejoin="round"/>
<circle cx="78" cy="298.7" r="5.7" fill="none" stroke="#3a3ac8" stroke-width="1.5"/>
<path d="M72.2,305 V307.9 H84.7 V305 M78.45,307.9 V312.9" fill="none" stroke="#3a3ac8" stroke-width="1.3"/>
<polygon points="119.25,278.6 124.79,281.8 124.79,288.2 119.25,291.4 113.71,288.2 113.71,281.8" fill="none" stroke="#333" stroke-width="0.95" stroke-linejoin="round"/>
<polyline points="124.79,281.8 130.88,279.82 134.64,285 130.88,290.18 124.79,288.2" fill="none" stroke="#333" stroke-width="0.75" stroke-linejoin="round"/>
<line x1="119.25" y1="280.39" x2="123.24" y2="282.7" stroke="#333" stroke-width="0.6"/>
<line x1="119.25" y1="278.6" x2="119.75" y2="276.2" stroke="#333" stroke-width="0.75"/>
<text x="121.45" y="274" font-size="4.2" fill="#333" stroke="#333" stroke-width="0.25" text-anchor="middle" font-weight="bold">NH<tspan font-size="2.94" dy="0.9">2</tspan></text>
<line x1="134.64" y1="285" x2="138.64" y2="285" stroke="#333" stroke-width="0.75"/>
<line x1="131.78" y1="281.42" x2="134.04" y2="284.8" stroke="#333" stroke-width="0.5"/>
<text x="142.24" y="286.45" font-size="4.2" fill="#333" text-anchor="middle" font-weight="bold"  stroke="#333" stroke-width="0.25">OH</text>
<polyline points="113.71,288.2 108.71,291.1 108.71,295 104.01,298.6 104.01,305.8 108.71,307.8" fill="none" stroke="#333" stroke-width="0.75" stroke-linejoin="round"/>
<rect x="107.31" y="289.3" width="2.8" height="3.6" fill="#fff"/>
<text x="108.71" y="292.68" font-size="4.4" fill="#111" text-anchor="middle" font-weight="bold" stroke="#111" stroke-width="0.25">O</text>
<rect x="102.61" y="304" width="2.8" height="3.6" fill="#fff"/>
<text x="104.01" y="307.38" font-size="4.4" fill="#111" text-anchor="middle" font-weight="bold" stroke="#111" stroke-width="0.25">O</text>
<rect x="112.21" y="280" width="3" height="3.6" fill="#fff"/>
<text x="113.71" y="283.38" font-size="4.4" fill="#111" text-anchor="middle" font-weight="bold" stroke="#111" stroke-width="0.25">N</text>
<rect x="117.75" y="289.6" width="3" height="3.6" fill="#fff"/>
<text x="119.25" y="292.98" font-size="4.4" fill="#111" text-anchor="middle" font-weight="bold" stroke="#111" stroke-width="0.25">N</text>
<rect x="129.38" y="278.02" width="3" height="3.6" fill="#fff"/>
<text x="130.88" y="281.41" font-size="4.4" fill="#111" text-anchor="middle" font-weight="bold" stroke="#111" stroke-width="0.25">N</text>
<rect x="129.38" y="288.38" width="3" height="3.6" fill="#fff"/>
<text x="130.88" y="291.76" font-size="4.4" fill="#111" text-anchor="middle" font-weight="bold" stroke="#111" stroke-width="0.25">N</text>
<polygon points="138.68,296.05 142.85,291.73 148.67,293.18 150.32,298.95 146.15,303.27 140.33,301.82" fill="none" stroke="#333" stroke-width="0.95" stroke-linejoin="round"/>
<line x1="140.31" y1="296.45" x2="143.31" y2="293.35" stroke="#333" stroke-width="0.6"/>
<line x1="147.5" y1="294.39" x2="148.69" y2="298.55" stroke="#333" stroke-width="0.6"/>
<line x1="145.69" y1="301.65" x2="141.5" y2="300.61" stroke="#333" stroke-width="0.6"/>
<polyline points="131.38,291.68 133.8,294.8 137.1,296.2 138.5,296.7" fill="none" stroke="#333" stroke-width="0.75" stroke-linejoin="round"/>
<polyline points="150.1,299 156.1,299" fill="none" stroke="#333" stroke-width="0.75" stroke-linejoin="round"/>
<polyline points="156.1,299 157.6,302 158,304.4" fill="none" stroke="#3550d0" stroke-width="0.75" stroke-linejoin="round"/>
<text x="158.1" y="307.7" font-size="4" fill="#3550d0" text-anchor="middle" font-weight="bold"  stroke="#3550d0" stroke-width="0.25">N</text>
<text x="158.1" y="312.3" font-size="4" fill="#3550d0" text-anchor="middle" font-weight="bold"  stroke="#3550d0" stroke-width="0.25">H</text>
<polyline points="160.2,306.2 164.9,306.9" fill="none" stroke="#f0b030" stroke-width="0.75" stroke-linejoin="round"/>
<line x1="164.9" y1="306.9" x2="167.9" y2="303.6" stroke="#f0b030" stroke-width="0.75"/>
<line x1="164.1" y1="306.1" x2="167.1" y2="302.8" stroke="#f0b030" stroke-width="0.6"/>
<rect x="167.5" y="300.8" width="2.8" height="3.6" fill="#fff"/>
<text x="168.9" y="304.18" font-size="4.4" fill="#f0b030" text-anchor="middle" font-weight="bold" stroke="#f0b030" stroke-width="0.25">O</text>
<polyline points="164.9,306.9 166.2,312.2 172.2,313.5 173.5,318.1 178.8,320.1 180.8,324.8 186.8,326.8" fill="none" stroke="#f0b030" stroke-width="0.75" stroke-linejoin="round"/>
<text x="189.6" y="329" font-size="4" fill="#f0b030" text-anchor="middle" font-weight="bold"  stroke="#f0b030" stroke-width="0.25">N</text>
<text x="189.6" y="324.2" font-size="4" fill="#f0b030" text-anchor="middle" font-weight="bold"  stroke="#f0b030" stroke-width="0.25">H</text>
<line x1="188.6" y1="329.8" x2="191.1" y2="333.4" stroke="#e64a44" stroke-width="0.75"/>
<line x1="191.1" y1="333.4" x2="187.5" y2="337.8" stroke="#e64a44" stroke-width="0.75"/>
<line x1="190.3" y1="332.6" x2="186.7" y2="337" stroke="#e64a44" stroke-width="0.6"/>
<rect x="185" y="337.4" width="2.8" height="3.6" fill="#fff"/>
<text x="186.4" y="340.78" font-size="4.4" fill="#e64a44" text-anchor="middle" font-weight="bold" stroke="#e64a44" stroke-width="0.25">O</text>
<polygon points="201.12,330.17 206.61,332.32 207.49,338.15 202.88,341.83 197.39,339.68 196.51,333.85" fill="none" stroke="#e64a44" stroke-width="0.95" stroke-linejoin="round"/>
<line x1="201.36" y1="331.8" x2="205.32" y2="333.35" stroke="#e64a44" stroke-width="0.6"/>
<line x1="205.96" y1="337.55" x2="202.64" y2="340.2" stroke="#e64a44" stroke-width="0.6"/>
<line x1="198.68" y1="338.65" x2="198.04" y2="334.45" stroke="#e64a44" stroke-width="0.6"/>
<line x1="191.1" y1="333.4" x2="196.51" y2="333.85" stroke="#e64a44" stroke-width="0.75"/>
<line x1="202.88" y1="341.83" x2="205.8" y2="346.2" stroke="#e64a44" stroke-width="0.75"/>
<line x1="205.8" y1="346.2" x2="209.3" y2="346.9" stroke="#e64a44" stroke-width="0.75"/>
<line x1="205.8" y1="346.2" x2="202.6" y2="349.1" stroke="#e64a44" stroke-width="0.75"/>
<rect x="209.5" y="345.4" width="2.8" height="3.6" fill="#fff"/>
<text x="210.9" y="348.78" font-size="4.4" fill="#e64a44" text-anchor="middle" font-weight="bold" stroke="#e64a44" stroke-width="0.25">O</text>
<text x="199.6" y="351.9" font-size="4" fill="#e64a44" text-anchor="middle" font-weight="bold"  stroke="#e64a44" stroke-width="0.25">HO</text>
<line x1="207.49" y1="338.15" x2="216.9" y2="340.1" stroke="#e64a44" stroke-width="0.75"/>
<polygon points="229.58,341.88 225.64,346.92 219.3,346.03 216.9,340.1 220.84,335.06 227.18,335.95" fill="none" stroke="#e64a44" stroke-width="0.95" stroke-linejoin="round"/>
<polygon points="231.12,330.9 227.18,335.95 220.84,335.06 218.44,329.12 222.38,324.08 228.72,324.97" fill="none" stroke="#e64a44" stroke-width="0.95" stroke-linejoin="round"/>
<polygon points="228.03,352.86 224.09,357.9 217.75,357.01 215.36,351.08 219.3,346.03 225.64,346.92" fill="none" stroke="#e64a44" stroke-width="0.95" stroke-linejoin="round"/>
<line x1="226.51" y1="334.29" x2="221.94" y2="333.64" stroke="#e64a44" stroke-width="0.6"/>
<line x1="220.22" y1="329.37" x2="223.05" y2="325.74" stroke="#e64a44" stroke-width="0.6"/>
<line x1="227.62" y1="326.38" x2="229.34" y2="330.66" stroke="#e64a44" stroke-width="0.6"/>
<line x1="226.26" y1="352.61" x2="223.42" y2="356.24" stroke="#e64a44" stroke-width="0.6"/>
<line x1="218.86" y1="355.6" x2="217.13" y2="351.33" stroke="#e64a44" stroke-width="0.6"/>
<line x1="219.97" y1="347.7" x2="224.53" y2="348.34" stroke="#e64a44" stroke-width="0.6"/>
<rect x="228.08" y="340.08" width="3" height="3.6" fill="#fff"/>
<text x="229.58" y="343.39" font-size="4.2" fill="#e64a44" text-anchor="middle" font-weight="bold" stroke="#e64a44" stroke-width="0.25">O</text>
<line x1="228.72" y1="324.97" x2="234.27" y2="322.08" stroke="#e64a44" stroke-width="0.75"/>
<line x1="234.27" y1="322.08" x2="232.27" y2="316.68" stroke="#e64a44" stroke-width="0.75"/>
<line x1="234.27" y1="322.08" x2="240.07" y2="322.98" stroke="#e64a44" stroke-width="0.75"/>
<rect x="232.77" y="320.28" width="3" height="3.6" fill="#fff"/>
<text x="234.27" y="323.6" font-size="4.2" fill="#e64a44" text-anchor="middle" font-weight="bold" stroke="#e64a44" stroke-width="0.25">N</text>
<line x1="224.09" y1="357.9" x2="226.13" y2="362.95" stroke="#e64a44" stroke-width="0.75"/>
<line x1="226.13" y1="362.95" x2="221.53" y2="366.55" stroke="#e64a44" stroke-width="0.75"/>
<line x1="226.13" y1="362.95" x2="230.33" y2="364.95" stroke="#e64a44" stroke-width="0.75"/>
<rect x="224.63" y="361.15" width="3" height="3.6" fill="#fff"/>
<text x="226.13" y="364.46" font-size="4.2" fill="#e64a44" text-anchor="middle" font-weight="bold" stroke="#e64a44" stroke-width="0.25">N</text>
<text x="228.73" y="361.95" font-size="3" fill="#e64a44" text-anchor="middle" font-weight="bold"  stroke="#e64a44" stroke-width="0.25">+</text>
<polygon points="266.7,278.7 272.16,281.85 272.16,288.15 266.7,291.3 261.24,288.15 261.24,281.85" fill="none" stroke="#333" stroke-width="0.95" stroke-linejoin="round"/>
<polyline points="272.16,281.85 278.15,279.9 281.85,285 278.15,290.1 272.16,288.15" fill="none" stroke="#333" stroke-width="0.75" stroke-linejoin="round"/>
<line x1="266.7" y1="280.46" x2="270.63" y2="282.73" stroke="#333" stroke-width="0.6"/>
<line x1="266.7" y1="278.7" x2="267.2" y2="276.3" stroke="#333" stroke-width="0.75"/>
<text x="268.9" y="274.1" font-size="4.2" fill="#333" stroke="#333" stroke-width="0.25" text-anchor="middle" font-weight="bold">NH<tspan font-size="2.94" dy="0.9">2</tspan></text>
<line x1="281.85" y1="285" x2="285.85" y2="285" stroke="#333" stroke-width="0.75"/>
<line x1="279.05" y1="281.5" x2="281.25" y2="284.8" stroke="#333" stroke-width="0.5"/>
<text x="289.45" y="286.45" font-size="4.2" fill="#333" text-anchor="middle" font-weight="bold"  stroke="#333" stroke-width="0.25">OH</text>
<polyline points="261.24,288.15 256.24,291.05 256.24,294.95 251.54,298.55 251.54,305.75 256.24,307.75" fill="none" stroke="#333" stroke-width="0.75" stroke-linejoin="round"/>
<rect x="254.84" y="289.25" width="2.8" height="3.6" fill="#fff"/>
<text x="256.24" y="292.63" font-size="4.4" fill="#111" text-anchor="middle" font-weight="bold" stroke="#111" stroke-width="0.25">O</text>
<rect x="250.14" y="303.95" width="2.8" height="3.6" fill="#fff"/>
<text x="251.54" y="307.33" font-size="4.4" fill="#111" text-anchor="middle" font-weight="bold" stroke="#111" stroke-width="0.25">O</text>
<rect x="259.74" y="280.05" width="3" height="3.6" fill="#fff"/>
<text x="261.24" y="283.43" font-size="4.4" fill="#111" text-anchor="middle" font-weight="bold" stroke="#111" stroke-width="0.25">N</text>
<rect x="265.2" y="289.5" width="3" height="3.6" fill="#fff"/>
<text x="266.7" y="292.88" font-size="4.4" fill="#111" text-anchor="middle" font-weight="bold" stroke="#111" stroke-width="0.25">N</text>
<rect x="276.65" y="278.1" width="3" height="3.6" fill="#fff"/>
<text x="278.15" y="281.49" font-size="4.4" fill="#111" text-anchor="middle" font-weight="bold" stroke="#111" stroke-width="0.25">N</text>
<rect x="276.65" y="288.3" width="3" height="3.6" fill="#fff"/>
<text x="278.15" y="291.68" font-size="4.4" fill="#111" text-anchor="middle" font-weight="bold" stroke="#111" stroke-width="0.25">N</text>
<polygon points="286.58,296.05 290.75,291.73 296.57,293.18 298.22,298.95 294.05,303.27 288.23,301.82" fill="none" stroke="#333" stroke-width="0.95" stroke-linejoin="round"/>
<line x1="288.21" y1="296.45" x2="291.21" y2="293.35" stroke="#333" stroke-width="0.6"/>
<line x1="295.4" y1="294.39" x2="296.59" y2="298.55" stroke="#333" stroke-width="0.6"/>
<line x1="293.59" y1="301.65" x2="289.4" y2="300.61" stroke="#333" stroke-width="0.6"/>
<polyline points="278.65,291.6 281.8,294.8 285.1,296.2 286.5,296.7" fill="none" stroke="#333" stroke-width="0.75" stroke-linejoin="round"/>
<polyline points="298.1,299 303.6,299" fill="none" stroke="#333" stroke-width="0.75" stroke-linejoin="round"/>
<polyline points="303.6,299 305.1,302 305.6,304.6" fill="none" stroke="#3550d0" stroke-width="0.75" stroke-linejoin="round"/>
<line x1="307.6" y1="305.4" x2="311.8" y2="304.7" stroke="#3aa048" stroke-width="0.75"/>
<line x1="311.8" y1="304.7" x2="315.3" y2="301.7" stroke="#3aa048" stroke-width="0.75"/>
<line x1="311.1" y1="303.9" x2="314.6" y2="300.9" stroke="#3aa048" stroke-width="0.6"/>
<rect x="315.4" y="299.2" width="2.8" height="3.6" fill="#fff"/>
<text x="316.8" y="302.58" font-size="4.4" fill="#3aa048" text-anchor="middle" font-weight="bold" stroke="#3aa048" stroke-width="0.25">O</text>
<polygon points="314.4,311.8 319.25,314.6 319.25,320.2 314.4,323 309.55,320.2 309.55,314.6" fill="none" stroke="#3aa048" stroke-width="0.95" stroke-linejoin="round"/>
<line x1="317.89" y1="315.38" x2="317.89" y2="319.42" stroke="#3aa048" stroke-width="0.6"/>
<line x1="314.4" y1="321.43" x2="310.91" y2="319.42" stroke="#3aa048" stroke-width="0.6"/>
<line x1="310.91" y1="315.38" x2="314.4" y2="313.37" stroke="#3aa048" stroke-width="0.6"/>
<line x1="311.8" y1="304.7" x2="314.4" y2="311.8" stroke="#3aa048" stroke-width="0.75"/>
<line x1="319.25" y1="320.2" x2="325.6" y2="319.8" stroke="#3aa048" stroke-width="0.75"/>
<line x1="325.6" y1="319.8" x2="328.8" y2="318.8" stroke="#3aa048" stroke-width="0.75"/>
<line x1="325.6" y1="319.8" x2="325" y2="324" stroke="#3aa048" stroke-width="0.75"/>
<text x="332.8" y="319.2" font-size="4" fill="#3aa048" text-anchor="middle" font-weight="bold"  stroke="#3aa048" stroke-width="0.25">OH</text>
<rect x="324.6" y="324.6" width="2.8" height="3.6" fill="#fff"/>
<text x="326" y="327.98" font-size="4.4" fill="#3aa048" text-anchor="middle" font-weight="bold" stroke="#3aa048" stroke-width="0.25">O</text>
<line x1="314.4" y1="323" x2="319.6" y2="332.4" stroke="#3aa048" stroke-width="0.75"/>
<polygon points="319.6,332.4 325.81,335.17 326.52,341.93 321.02,345.93 314.81,343.16 314.1,336.4" fill="none" stroke="#3aa048" stroke-width="0.95" stroke-linejoin="round"/>
<polygon points="307.89,333.63 314.1,336.4 314.81,343.16 309.31,347.16 303.1,344.39 302.39,337.63" fill="none" stroke="#3aa048" stroke-width="0.95" stroke-linejoin="round"/>
<polygon points="331.31,331.17 337.53,333.93 338.24,340.7 332.73,344.69 326.52,341.93 325.81,335.17" fill="none" stroke="#3aa048" stroke-width="0.95" stroke-linejoin="round"/>
<line x1="308.09" y1="335.52" x2="312.56" y2="337.52" stroke="#3aa048" stroke-width="0.6"/>
<line x1="313.07" y1="342.39" x2="309.11" y2="345.26" stroke="#3aa048" stroke-width="0.6"/>
<line x1="304.64" y1="343.27" x2="304.12" y2="338.4" stroke="#3aa048" stroke-width="0.6"/>
<line x1="331.51" y1="333.06" x2="335.98" y2="335.05" stroke="#3aa048" stroke-width="0.6"/>
<line x1="336.5" y1="339.92" x2="332.54" y2="342.8" stroke="#3aa048" stroke-width="0.6"/>
<line x1="328.06" y1="340.81" x2="327.55" y2="335.94" stroke="#3aa048" stroke-width="0.6"/>
<rect x="319.52" y="344.13" width="3" height="3.6" fill="#fff"/>
<text x="321.02" y="347.44" font-size="4.2" fill="#3aa048" text-anchor="middle" font-weight="bold" stroke="#3aa048" stroke-width="0.25">O</text>
<line x1="303.1" y1="344.39" x2="301.4" y2="348.4" stroke="#3aa048" stroke-width="0.75"/>
<text x="298.8" y="351.7" font-size="4.2" fill="#3aa048" text-anchor="middle" font-weight="bold">H<tspan font-size="2.9" dy="0.8">2</tspan><tspan dy="-0.8">N</tspan></text>
<line x1="309.31" y1="347.16" x2="312.4" y2="352.8" stroke="#3aa048" stroke-width="0.75"/>
<line x1="311.2" y1="354.8" x2="307.8" y2="355.2" stroke="#3aa048" stroke-width="0.75"/>
<line x1="314.2" y1="354.5" x2="317.5" y2="353.8" stroke="#3aa048" stroke-width="0.75"/>
<line x1="313.5" y1="356.6" x2="315.8" y2="359.6" stroke="#3aa048" stroke-width="0.75"/>
<text x="312.7" y="356.35" font-size="4.3" fill="#3aa048" text-anchor="middle" font-weight="bold"  stroke="#3aa048" stroke-width="0.25">S</text>
<text x="306.2" y="356.75" font-size="4.3" fill="#3aa048" text-anchor="middle" font-weight="bold"  stroke="#3aa048" stroke-width="0.25">O</text>
<text x="319.1" y="355.15" font-size="4.3" fill="#3aa048" text-anchor="middle" font-weight="bold"  stroke="#3aa048" stroke-width="0.25">O</text>
<text x="317.6" y="363.75" font-size="4.3" fill="#3aa048" text-anchor="middle" font-weight="bold"  stroke="#3aa048" stroke-width="0.25">OH</text>
<line x1="338.24" y1="340.7" x2="343.2" y2="341.2" stroke="#3aa048" stroke-width="0.75"/>
<line x1="338.44" y1="341.8" x2="343" y2="342.3" stroke="#3aa048" stroke-width="0.55"/>
<text x="346.8" y="343.35" font-size="4.3" fill="#3aa048" text-anchor="middle" font-weight="bold"  stroke="#3aa048" stroke-width="0.25">NH</text>
<line x1="332.73" y1="344.69" x2="334.8" y2="350.2" stroke="#3aa048" stroke-width="0.75"/>
<line x1="333.5" y1="352.2" x2="330.2" y2="352.8" stroke="#3aa048" stroke-width="0.75"/>
<line x1="336.5" y1="351.6" x2="339.8" y2="350" stroke="#3aa048" stroke-width="0.75"/>
<line x1="335.6" y1="354" x2="337.2" y2="356.2" stroke="#3aa048" stroke-width="0.75"/>
<text x="335" y="353.75" font-size="4.3" fill="#3aa048" text-anchor="middle" font-weight="bold"  stroke="#3aa048" stroke-width="0.25">S</text>
<text x="328.6" y="354.35" font-size="4.3" fill="#3aa048" text-anchor="middle" font-weight="bold"  stroke="#3aa048" stroke-width="0.25">O</text>
<text x="341.4" y="351.15" font-size="4.3" fill="#3aa048" text-anchor="middle" font-weight="bold"  stroke="#3aa048" stroke-width="0.25">O</text>
<text x="338.4" y="359.95" font-size="4.3" fill="#3aa048" text-anchor="middle" font-weight="bold"  stroke="#3aa048" stroke-width="0.25">OH</text>
<text x="305.8" y="307.9" font-size="4" fill="#3550d0" text-anchor="middle" font-weight="bold"  stroke="#3550d0" stroke-width="0.25">N</text>
<text x="305.8" y="312.4" font-size="4" fill="#3550d0" text-anchor="middle" font-weight="bold"  stroke="#3550d0" stroke-width="0.25">H</text>
<text x="125.1" y="15.6" font-size="8.5" font-weight="bold" fill="#000">R848<tspan fill="#2d5ad0">-</tspan><tspan fill="#e8352a" font-size="8.9">TAMRA</tspan></text>
<text x="125" y="139.3" font-size="8.5" font-weight="bold" fill="#000">R837<tspan fill="#2d5ad0">-</tspan><tspan fill="#e8352a" font-size="8.9">TAMRA</tspan></text>
<text x="264.9" y="139.3" font-size="8.5" font-weight="bold" fill="#000">R837<tspan fill="#2d8a50">-</tspan><tspan fill="#3a9a3a" font-size="8.9">AF488</tspan></text>
<text x="125" y="267.6" font-size="8.5" font-weight="bold" fill="#000">SM<tspan fill="#2d5ad0">-</tspan><tspan fill="#e8352a" font-size="8.9">TAMRA</tspan></text>
<text x="264.5" y="267.6" font-size="8.5" font-weight="bold" fill="#000">SM<tspan fill="#2d8a50">-</tspan><tspan fill="#3a9a3a" font-size="8.9">AF488</tspan></text>
</svg>
</body></html>
